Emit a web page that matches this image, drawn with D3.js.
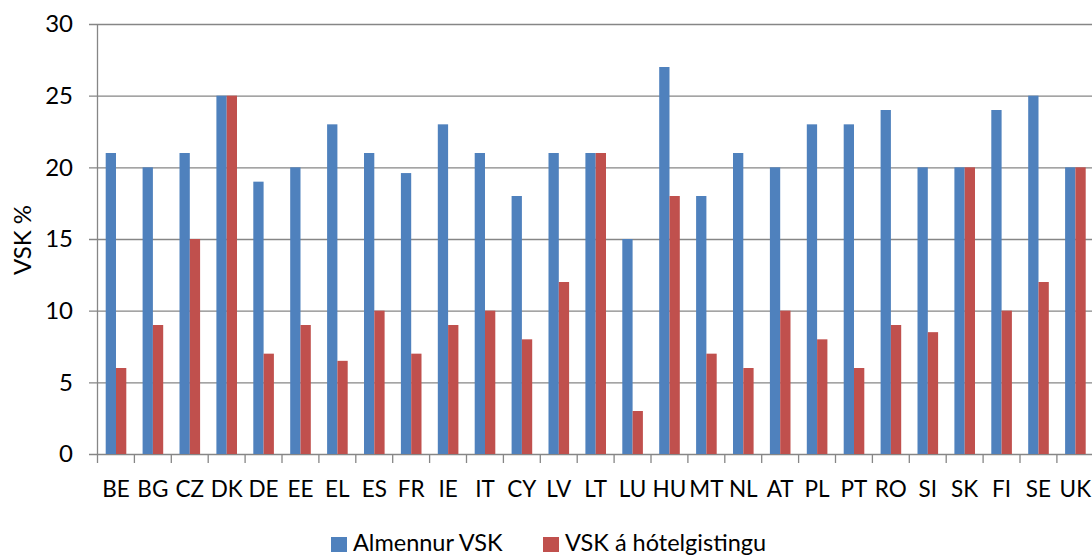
<!DOCTYPE html>
<html><head><meta charset="utf-8">
<script src="https://cdn.jsdelivr.net/npm/d3@7"></script>
<style>body{margin:0;background:#fff}svg{display:block}text{font-family:Lato,"Open Sans",sans-serif;fill:#000}</style>
</head><body><svg id="c" width="1092" height="555"></svg>
<script>
const categories = ["BE","BG","CZ","DK","DE","EE","EL","ES","FR","IE","IT","CY","LV","LT","LU","HU","MT","NL","AT","PL","PT","RO","SI","SK","FI","SE","UK"];
const seriesNames = ["Almennur VSK","VSK á hótelgistingu"];
const general = [21,20,21,25,19,20,23,21,19.6,23,21,18,21,21,15,27,18,21,20,23,23,24,20,20,24,25,20];
const hotel = [6,9,15,25,7,9,6.5,10,7,9,10,8,12,21,3,18,7,6,10,8,6,9,8.5,20,10,12,20];
const yTicks = [0,5,10,15,20,25,30];
const colors = ["#4F81BD","#C0504D"];

(function(){
const svg = d3.select("#c");
const pLeft = 97.5, pTop = 24, pBottom = 454, bandW = 36.9;
const pRight = pLeft + bandW*categories.length;
const y = d3.scaleLinear().domain([0,30]).range([pBottom, pTop]);
const x = d3.scaleBand().domain(categories).range([pLeft, pRight]).paddingInner(0).paddingOuter(0);
const xs = d3.scaleBand().domain([0,1]).range([8.2, 8.2+20.6]);

svg.append("g").selectAll("line").data(yTicks).join("line")
  .attr("x1", 89).attr("x2", 1092).attr("y1", d=>y(d)+0.5).attr("y2", d=>y(d)+0.5)
  .attr("stroke", "#868686").attr("stroke-width", 1.3);
svg.append("line").attr("x1", pLeft).attr("x2", pLeft).attr("y1", pTop).attr("y2", pBottom+9)
  .attr("stroke", "#868686").attr("stroke-width", 1.3);
svg.append("g").selectAll("line").data(categories.slice(1)).join("line")
  .attr("x1", d=>x(d)).attr("x2", d=>x(d)).attr("y1", pBottom).attr("y2", pBottom+9)
  .attr("stroke", "#868686").attr("stroke-width", 1.3);

const data = categories.map((c,i)=>({c, v:[general[i], hotel[i]]}));
const g = svg.append("g").selectAll("g").data(data).join("g").attr("transform", d=>`translate(${x(d.c)},0)`);
g.selectAll("rect").data(d=>d.v.map((v,k)=>({v,k}))).join("rect")
  .attr("x", d=>xs(d.k)).attr("width", xs.bandwidth())
  .attr("y", d=>y(d.v)).attr("height", d=>pBottom - y(d.v))
  .attr("fill", d=>colors[d.k]);

svg.append("g").selectAll("text").data(yTicks).join("text")
  .attr("x", 73).attr("y", d=>y(d)).attr("dy", "0.35em").attr("text-anchor","end")
  .attr("font-size", 24).text(d=>d);
svg.append("g").selectAll("text").data(categories).join("text")
  .attr("x", d=>x(d)+bandW/2).attr("y", 497).attr("text-anchor","middle")
  .attr("font-size", 22.5).text(d=>d);
svg.append("text").attr("transform","translate(31,240) rotate(-90)").attr("text-anchor","middle")
  .attr("font-size", 24).text("VSK %");

const legX = [331, 543];
const lg = svg.append("g").selectAll("g").data(seriesNames).join("g")
  .attr("transform", (d,i)=>`translate(${legX[i]},537)`);
lg.append("rect").attr("width", 16).attr("height", 15).attr("fill", (d,i)=>colors[i]);
lg.append("text").attr("x", 22).attr("y", 14).attr("font-size", 23.5).text(d=>d);
})();
</script></body></html>
